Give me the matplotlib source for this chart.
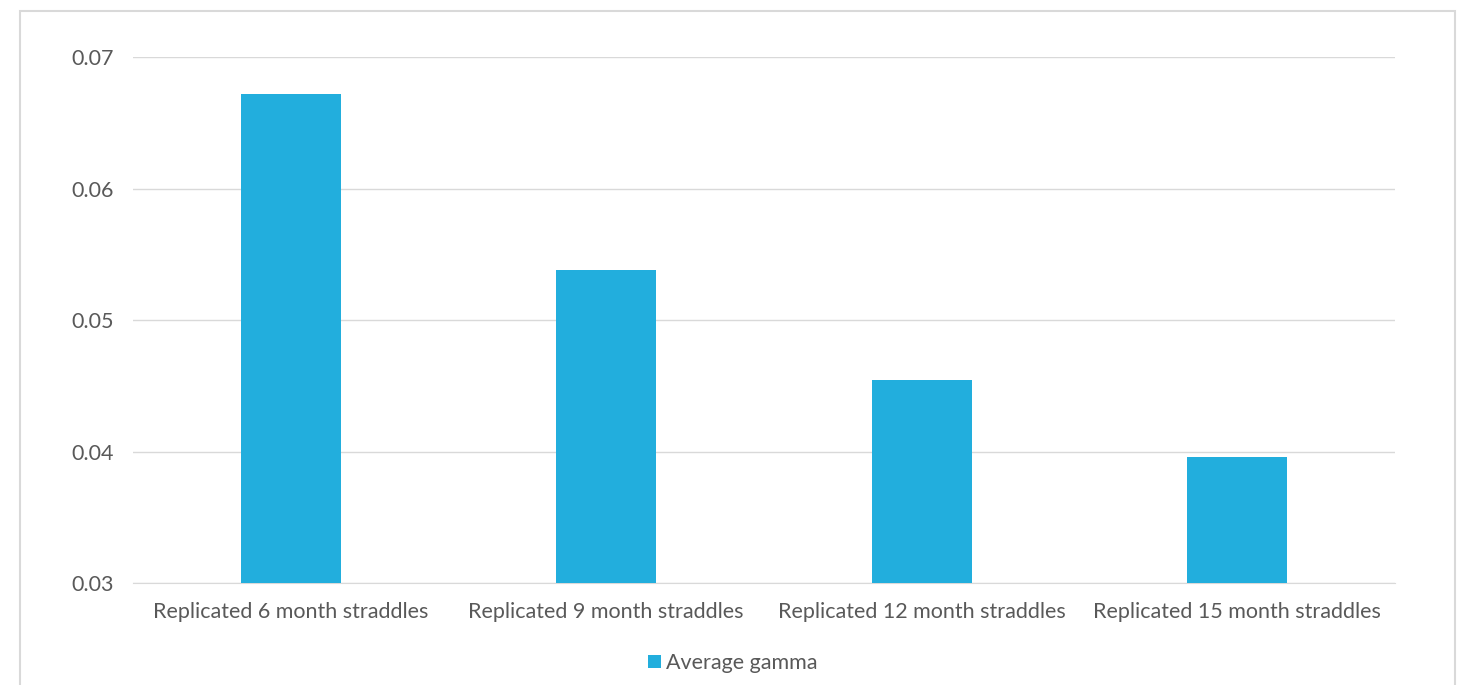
import matplotlib
matplotlib.use("Agg")
from matplotlib import pyplot as plt
from matplotlib.patches import Rectangle

# data
categories = ["Replicated 6 month straddles", "Replicated 9 month straddles",
              "Replicated 12 month straddles", "Replicated 15 month straddles"]
avg_gamma = [0.0672, 0.0538, 0.0454, 0.0396]
y_ticks = [0.03, 0.04, 0.05, 0.06, 0.07]
series_name = "Average gamma"

bar_color = "#22AEDD"
text_color = "#595959"
grid_color = "#D9D9D9"

plt.rcParams['font.family'] = ['Lato', 'DejaVu Sans']

fig = plt.figure(figsize=(14.65, 6.85), dpi=100)
ax = fig.add_axes([133/1465, 1 - 583/685, (1395-133)/1465, (583-57)/685])

# outer chart frame
fig.patches.append(Rectangle((20/1465, -0.05), (1455-20)/1465, 1.05 - 11/685,
                             transform=fig.transFigure, fill=False,
                             edgecolor="#D9D9D9", linewidth=1.5))

x = range(len(categories))
ax.bar(x, avg_gamma, width=0.317, color=bar_color, label=series_name, zorder=3)

ax.set_ylim(0.03, 0.07)
ax.set_xlim(-0.5, len(categories) - 0.5)
ax.set_yticks(y_ticks)
ax.set_yticklabels([f"{v:.2f}" for v in y_ticks])
ax.set_xticks(list(x))
ax.set_xticklabels(categories)
ax.grid(axis="y", color=grid_color, linewidth=1, zorder=0)

for side in ["top", "right", "left"]:
    ax.spines[side].set_visible(False)
ax.spines["bottom"].set_color(grid_color)
ax.tick_params(axis="both", length=0, colors=text_color, labelsize=15.5)
ax.tick_params(axis="y", pad=14)
ax.tick_params(axis="x", pad=14)

fig.legend(loc="center", bbox_to_anchor=(0.5, 1 - 663/685), frameon=False,
           fontsize=15.5, labelcolor=text_color, handlelength=0.6, handleheight=0.6,
           handletextpad=0.25)

plt.savefig("out.png", dpi=100)
